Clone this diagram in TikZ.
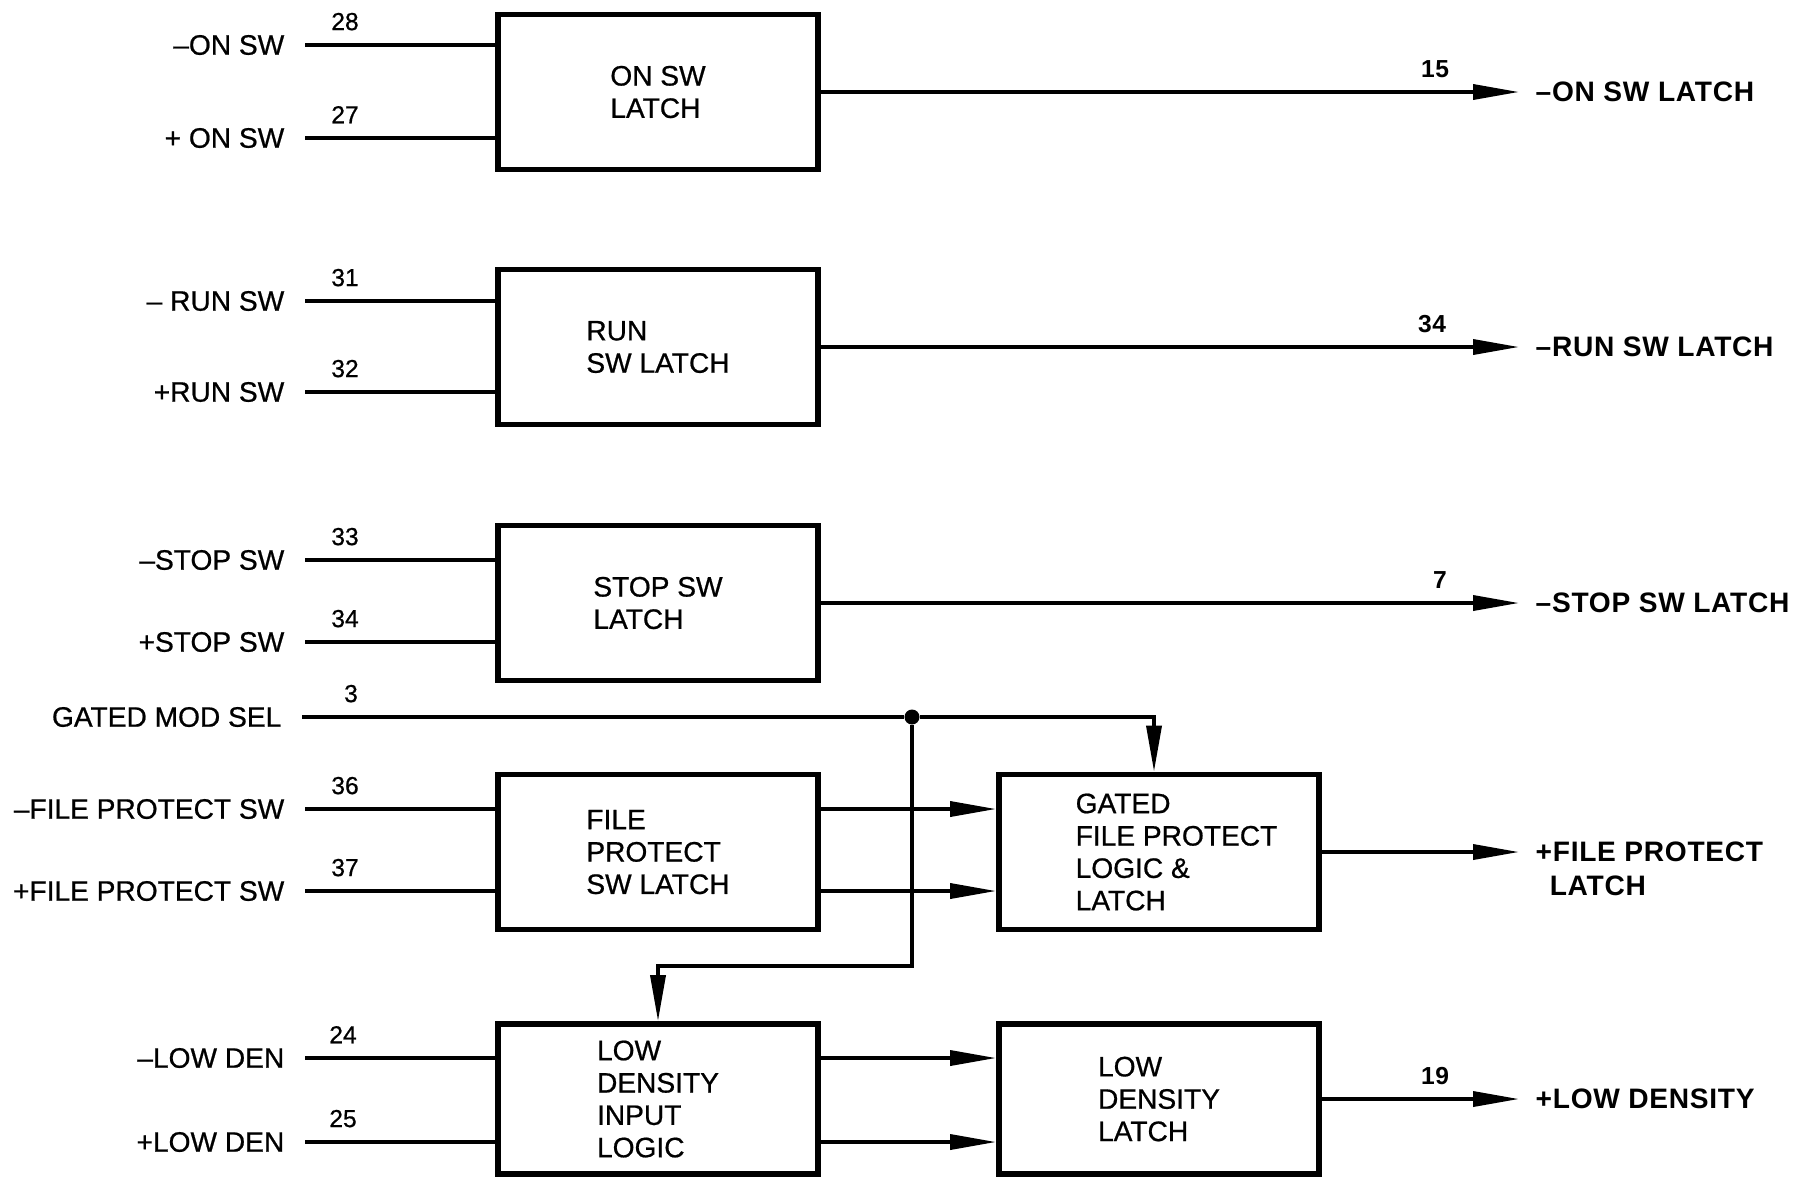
\documentclass[tikz,border=0pt]{standalone}
\usepackage{fontspec}
\setmainfont{Liberation Sans}
\newfontfamily\medfont{Liberation Sans}[FakeBold=0.7]
\newfontfamily\boldfont{Liberation Sans Bold}[LetterSpace=2.5]
\usetikzlibrary{arrows.meta, positioning, calc}

\begin{document}
\begin{tikzpicture}[
    x=0.01cm,
    y=-0.01cm,
    block/.style={rectangle, draw, line width=1.6pt, minimum width=3.2cm,
                  minimum height=1.55cm, align=left, inner sep=2pt,
                  font=\medfont\fontsize{8}{9.2}\selectfont},
    wire/.style={line width=1pt},
    arrow/.style={wire, -{Triangle[length=0.46cm, width=0.15cm]}},
    inlbl/.style={anchor=east, inner xsep=0.2cm, inner ysep=0pt,
                  font=\medfont\fontsize{8}{9.2}\selectfont},
    outlbl/.style={anchor=west, inner xsep=0.16cm, inner ysep=0pt,
                   align=left, font=\boldfont\fontsize{8}{9.8}\selectfont},
    numin/.style={anchor=south, inner sep=0pt,
                  font=\medfont\fontsize{7}{8}\selectfont},
    numout/.style={anchor=south, inner sep=0pt,
                   font=\boldfont\fontsize{7}{8}\selectfont},
    junc/.style={circle, fill, inner sep=0pt, minimum size=0.15cm},
]
\useasboundingbox (0,0) rectangle (1807,1178);

% latches
\node[block] (onl)   at (658,92)    {ON SW\\LATCH};
\node[block] (runl)  at (658,347)   {RUN\\SW LATCH};
\node[block] (stopl) at (658,603)   {STOP SW\\LATCH};
\node[block] (fpl)   at (658,852)   {FILE\\PROTECT\\SW LATCH};
\node[block, minimum height=1.5cm] (ldin) at (658,1099)
    {LOW\\DENSITY\\INPUT\\LOGIC};
\node[block] (gfp)   at (1159,852)
    {\hspace*{0.35cm}GATED\\\hspace*{0.35cm}FILE PROTECT\\\hspace*{0.35cm}LOGIC \&\\\hspace*{0.35cm}LATCH};
\node[block, minimum height=1.5cm] (ldl) at (1159,1099)
    {LOW\\DENSITY\\LATCH};

% input signals
\node[inlbl] (ionm)   at (305,45)   {–ON SW};
\node[inlbl] (ionp)   at (305,138)  {+ ON SW};
\node[inlbl] (irunm)  at (305,301)  {– RUN SW};
\node[inlbl] (irunp)  at (305,392)  {+RUN SW};
\node[inlbl] (istopm) at (305,560)  {–STOP SW};
\node[inlbl] (istopp) at (305,642)  {+STOP SW};
\node[inlbl] (igms)   at (302,717)  {GATED MOD SEL};
\node[inlbl] (ifpm)   at (305,809)  {–FILE PROTECT SW};
\node[inlbl] (ifpp)   at (305,891)  {+FILE PROTECT SW};
\node[inlbl] (ildm)   at (305,1058) {–LOW DEN};
\node[inlbl] (ildp)   at (305,1142) {+LOW DEN};

\node[numin] at (345,31)   {28};
\node[numin] at (345,124)  {27};
\node[numin] at (345,287)  {31};
\node[numin] at (345,378)  {32};
\node[numin] at (345,546)  {33};
\node[numin] at (345,628)  {34};
\node[numin] at (351,703)  {3};
\node[numin] at (345,795)  {36};
\node[numin] at (345,877)  {37};
\node[numin] at (343,1044) {24};
\node[numin] at (343,1128) {25};

\draw[wire] (ionm.east) -- (ionm.east -| onl.west);
\draw[wire] (ionp.east) -- (ionp.east -| onl.west);
\draw[wire] (irunm.east) -- (irunm.east -| runl.west);
\draw[wire] (irunp.east) -- (irunp.east -| runl.west);
\draw[wire] (istopm.east) -- (istopm.east -| stopl.west);
\draw[wire] (istopp.east) -- (istopp.east -| stopl.west);
\draw[wire] (ifpm.east) -- (ifpm.east -| fpl.west);
\draw[wire] (ifpp.east) -- (ifpp.east -| fpl.west);
\draw[wire] (ildm.east) -- (ildm.east -| ldin.west);
\draw[wire] (ildp.east) -- (ildp.east -| ldin.west);

% gated mode select
\node[junc] (jgms) at (912,717) {};
\draw[wire] (igms.east) -- (jgms);
\draw[arrow] (jgms) -| ([xshift=-0.05cm]gfp.north);
\draw[arrow] (jgms) -- ++(0,249) -| (ldin.north);

% latch to logic
\draw[arrow] (ifpm.east -| fpl.east) -- (ifpm.east -| gfp.west);
\draw[arrow] (ifpp.east -| fpl.east) -- (ifpp.east -| gfp.west);
\draw[arrow] (ildm.east -| ldin.east) -- (ildm.east -| ldl.west);
\draw[arrow] (ildp.east -| ldin.east) -- (ildp.east -| ldl.west);

% outputs
\node[outlbl] (oon)   at (1519,92)   {–ON SW LATCH};
\node[outlbl] (orun)  at (1519,347)  {–RUN SW LATCH};
\node[outlbl] (ostop) at (1519,603)  {–STOP SW LATCH};
\node[outlbl] (ofp)   at (1519,869)  {+FILE PROTECT\\\hspace{0.5em}LATCH};
\node[outlbl] (old)   at (1519,1099) {+LOW DENSITY};

\node[numout] at (1435,78)   {15};
\node[numout] at (1432,333)  {34};
\node[numout] at (1440,589)  {7};
\node[numout] at (1435,1085) {19};

\draw[arrow] (onl.east) -- (oon.west);
\draw[arrow] (runl.east) -- (orun.west);
\draw[arrow] (stopl.east) -- (ostop.west);
\draw[arrow] (gfp.east) -- (gfp.east -| ofp.west);
\draw[arrow] (ldl.east) -- (old.west);
\end{tikzpicture}
\end{document}
